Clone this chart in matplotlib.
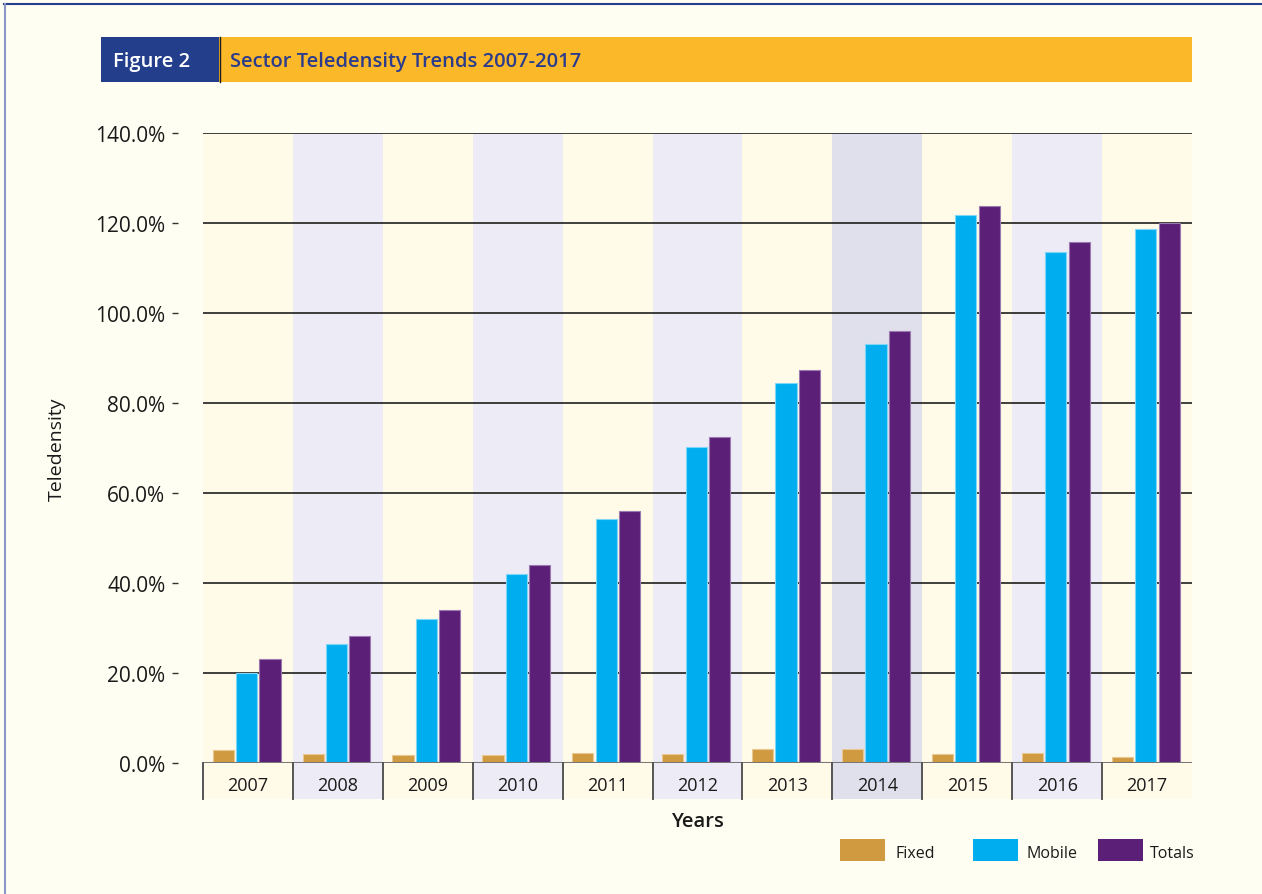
import matplotlib
matplotlib.use("Agg")
import matplotlib.pyplot as plt
from matplotlib.patches import Rectangle
from matplotlib.lines import Line2D
import matplotlib.transforms as mtransforms

years = ["2007", "2008", "2009", "2010", "2011", "2012", "2013", "2014", "2015", "2016", "2017"]
fixed = [3.0, 2.1, 1.8, 1.8, 2.2, 1.9, 3.2, 3.2, 2.0, 2.2, 1.4]
mobile = [19.9, 26.5, 32.1, 42.1, 54.3, 70.2, 84.4, 93.2, 121.7, 113.6, 118.6]
totals = [23.1, 28.2, 33.9, 43.9, 56.1, 72.5, 87.3, 95.9, 123.7, 115.7, 120.0]
yticks = [0, 20, 40, 60, 80, 100, 120, 140]
ytick_labels = ["0.0%", "20.0%", "40.0%", "60.0%", "80.0%", "100.0%", "120.0%", "140.0%"]

plt.rcParams['font.family'] = ['Open Sans', 'DejaVu Sans']

W, H = 1262, 895
BG = "#FFFEF2"
CREAM = "#FFFBE8"
LAV = "#EDEBF5"
LAV_DARK = "#E0E0EC"
C_FIXED = "#D09A40"
C_MOBILE = "#00AEEF"
C_TOTAL = "#5C1F77"
NAVY = "#233F8C"
ORANGE = "#FBB829"

fig = plt.figure(figsize=(W / 100, H / 100), dpi=100, facecolor=BG)

def fx(px):
    return px / W

def fy(py):
    return 1 - py / H

# frame lines
fig.add_artist(Line2D([fx(4), fx(1262)], [fy(5), fy(5)], color=NAVY, lw=1.5))
fig.add_artist(Line2D([fx(4.5), fx(4.5)], [fy(5), fy(895)], color="#8A96C8", lw=1.5))

# header
fig.add_artist(Rectangle((fx(101), fy(83)), fx(118), (83 - 38) / H, facecolor=NAVY,
                         edgecolor="none", transform=fig.transFigure))
fig.add_artist(Rectangle((fx(219), fy(83)), fx(1192 - 219), (83 - 38) / H, facecolor=ORANGE,
                         edgecolor="none", transform=fig.transFigure))
fig.add_artist(Line2D([fx(219.5), fx(219.5)], [fy(38), fy(83)], color="#1a1a1a", lw=1))
fig.text(fx(113), fy(62), "Figure 2", color="white", fontsize=14.5, fontweight="semibold",
         va="center", ha="left")
fig.text(fx(230), fy(62), "Sector Teledensity Trends 2007-2017", color="#2B3C8C",
         fontsize=14.5, fontweight="semibold", va="center", ha="left")

# axes
left, right, top, bottom = 203, 1192, 134, 764
ax = fig.add_axes([fx(left), fy(bottom), fx(right - left), (bottom - top) / H])
ax.set_facecolor("none")
n = len(years)
ax.set_xlim(-0.5, n - 0.5)
ax.set_ylim(0, 140)

col_colors = []
for i in range(n):
    if i == 7:
        c = LAV_DARK
    elif i % 2 == 0:
        c = CREAM
    else:
        c = LAV
    col_colors.append(c)
    ax.axvspan(i - 0.5, i + 0.5, color=c, zorder=0, lw=0)

for v in yticks[1:]:
    ax.axhline(v, color="#1e1e1e", lw=1.2, zorder=1)
ax.axhline(0, color="#777777", lw=2.2, zorder=4)

x = list(range(n))
bw = 0.235
ax.bar([i - 0.275 for i in x], fixed, width=bw, color=C_FIXED, edgecolor="#E8C890", lw=0.8, zorder=3)
ax.bar([i - 0.015 for i in x], mobile, width=bw, color=C_MOBILE, edgecolor="#7FD6F7", lw=0.8, zorder=3)
ax.bar([i + 0.245 for i in x], totals, width=bw, color=C_TOTAL, edgecolor="#9A7AB0", lw=0.8, zorder=3)

for s in ["top", "right", "bottom"]:
    ax.spines[s].set_visible(False)
ax.spines["left"].set_position(("outward", 18))
ax.spines["left"].set_visible(False)
ax.set_yticks(yticks)
ax.set_yticklabels(ytick_labels, fontsize=15, color="#1a1a1a")
ax.tick_params(axis="y", length=4.5, width=1, color="#333333", pad=4.5)
ax.set_xticks([])
ax.set_ylabel("Teledensity", fontsize=14, color="#1a1a1a", labelpad=21)

# year cells below the axis
trans = mtransforms.blended_transform_factory(ax.transData, ax.transAxes)
cell_h = 36 / (bottom - top)
for i, yr in enumerate(years):
    ax.add_patch(Rectangle((i - 0.5, -cell_h), 1, cell_h, transform=trans,
                           facecolor=col_colors[i], edgecolor="none", clip_on=False, zorder=0))
    ax.text(i, -cell_h * 0.6, yr, transform=trans, ha="center", va="center",
            fontsize=13, color="#1a1a1a", clip_on=False)
for i in range(n):
    ax.add_line(Line2D([i - 0.5, i - 0.5], [0, -cell_h], transform=trans, color="#555555",
                       lw=1.4, clip_on=False, zorder=5))

fig.text(fx(697), fy(822), "Years", fontsize=14.5, fontweight="semibold", color="#1a1a1a",
         ha="center", va="center")

# legend
for px0, lab, col, tx in [(840, "Fixed", C_FIXED, 895), (973, "Mobile", C_MOBILE, 1026),
                          (1098, "Totals", C_TOTAL, 1150)]:
    fig.add_artist(Rectangle((fx(px0), fy(862)), fx(45), 22 / H, facecolor=col,
                             edgecolor="none", transform=fig.transFigure))
    fig.text(fx(tx), fy(854), lab, fontsize=11.5, color="#1a1a1a", ha="left", va="center")

fig.savefig("out.png", dpi=100, facecolor=BG)
